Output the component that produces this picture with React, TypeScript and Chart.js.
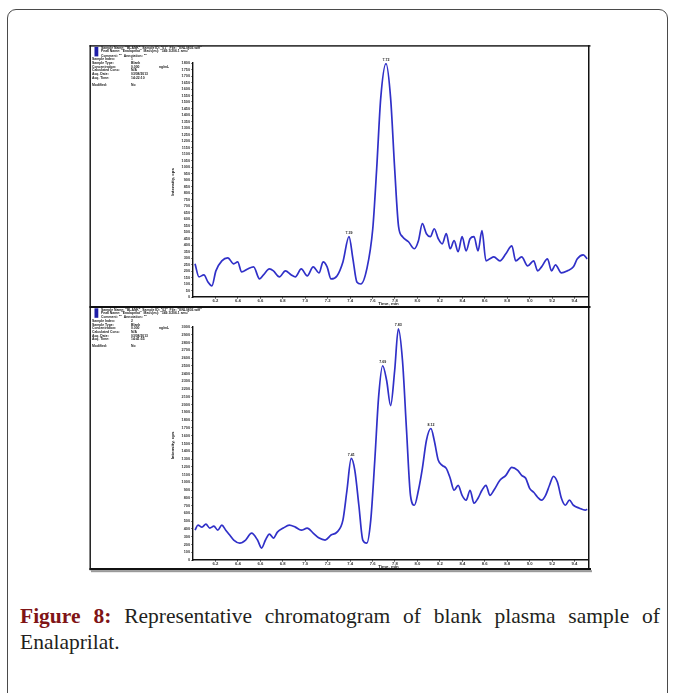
import React, { useEffect, useRef } from "react";
import { Chart, registerables } from "chart.js";

Chart.register(...registerables);

// Retention-time axis labels (min)
const timeTicks = [6.2, 6.4, 6.6, 6.8, 7.0, 7.2, 7.4, 7.6, 7.8, 8.0, 8.2, 8.4, 8.6, 8.8, 9.0, 9.2, 9.4];

// Upper trace
const topTime = [6.018, 6.053, 6.097, 6.133, 6.168, 6.204, 6.257, 6.31, 6.363, 6.398, 6.434, 6.487, 6.54, 6.593, 6.628, 6.681, 6.717, 6.77, 6.823, 6.876, 6.912, 6.965, 7.018, 7.071, 7.124, 7.159, 7.195, 7.23, 7.283, 7.336, 7.39, 7.425, 7.46, 7.496, 7.549, 7.602, 7.637, 7.673, 7.72, 7.761, 7.797, 7.832, 7.867, 7.92, 7.973, 8.009, 8.044, 8.08, 8.115, 8.15, 8.186, 8.221, 8.257, 8.292, 8.327, 8.363, 8.398, 8.434, 8.469, 8.504, 8.54, 8.575, 8.611, 8.646, 8.681, 8.735, 8.788, 8.841, 8.876, 8.929, 8.982, 9.036, 9.071, 9.106, 9.159, 9.195, 9.23, 9.283, 9.336, 9.39, 9.425, 9.478, 9.513];
const topIntensity = [255, 155, 170, 116, 85, 201, 278, 301, 255, 270, 193, 216, 232, 139, 170, 216, 201, 155, 201, 170, 155, 216, 162, 232, 185, 270, 232, 139, 162, 270, 464, 294, 116, 100, 216, 525, 989, 1530, 1795, 1530, 989, 541, 464, 425, 371, 433, 564, 487, 464, 525, 448, 409, 487, 371, 433, 348, 464, 355, 448, 464, 355, 510, 278, 294, 309, 278, 332, 394, 278, 309, 239, 278, 201, 232, 294, 201, 247, 185, 201, 232, 294, 324, 294];
const topPeaks = [7.39, 7.72];

// Lower trace
const bottomTime = [6.018, 6.044, 6.08, 6.115, 6.15, 6.186, 6.221, 6.257, 6.292, 6.327, 6.363, 6.416, 6.469, 6.522, 6.575, 6.611, 6.646, 6.681, 6.717, 6.752, 6.805, 6.858, 6.912, 6.965, 7.018, 7.071, 7.124, 7.177, 7.23, 7.283, 7.336, 7.372, 7.41, 7.442, 7.478, 7.513, 7.549, 7.584, 7.62, 7.655, 7.69, 7.726, 7.761, 7.797, 7.83, 7.867, 7.903, 7.938, 7.973, 8.009, 8.044, 8.08, 8.12, 8.15, 8.186, 8.221, 8.257, 8.292, 8.327, 8.363, 8.398, 8.434, 8.469, 8.504, 8.54, 8.575, 8.611, 8.646, 8.681, 8.735, 8.788, 8.841, 8.894, 8.929, 8.965, 9.0, 9.036, 9.071, 9.106, 9.142, 9.177, 9.212, 9.248, 9.283, 9.319, 9.354, 9.39, 9.443, 9.496, 9.513];
const bottomIntensity = [384, 449, 423, 461, 411, 436, 384, 449, 384, 321, 257, 218, 257, 346, 257, 154, 257, 334, 282, 359, 411, 449, 423, 384, 411, 346, 282, 257, 321, 359, 513, 898, 1308, 1154, 705, 257, 218, 513, 1283, 2116, 2501, 2308, 1988, 2437, 2976, 2565, 1667, 833, 705, 898, 1180, 1539, 1693, 1539, 1283, 1219, 1180, 1052, 898, 962, 833, 770, 898, 731, 795, 898, 962, 833, 898, 1026, 1090, 1193, 1154, 1090, 1052, 923, 872, 808, 770, 833, 962, 1077, 1000, 795, 705, 770, 705, 667, 641, 654];
const bottomPeaks = [7.41, 7.69, 7.83, 8.12];

// Acquisition header text
const topHeadLines = [
  'Sample Name: "BLANK"  Sample ID: "01"  File: "ENL0803.wiff"',
  'Peak Name: "Enalaprilat"  Mass(es): "349.1/206.1 amu"',
  'Comment: ""  Annotation: ""',
];
const bottomHeadLines = [
  'Sample Name: "BLANK"  Sample ID: "02"  File: "ENL0803.wiff"',
  'Peak Name: "Enalaprilat"  Mass(es): "349.1/206.1 amu"',
  'Comment: ""  Annotation: ""',
];
const topFields = [
  ["Sample Index:", "1", ""],
  ["Sample Type:", "Blank", ""],
  ["Concentration:", "0.000", "ng/mL"],
  ["Calculated Conc:", "N/A", ""],
  ["Acq. Date:", "03/08/2013", ""],
  ["Acq. Time:", "14:22:10", ""],
  ["Modified:", "No", ""],
];
const bottomFields = [
  ["Sample Index:", "2", ""],
  ["Sample Type:", "Blank", ""],
  ["Concentration:", "0.000", "ng/mL"],
  ["Calculated Conc:", "N/A", ""],
  ["Acq. Date:", "03/08/2013", ""],
  ["Acq. Time:", "14:41:55", ""],
  ["Modified:", "No", ""],
];

const SANS = '"Liberation Sans", Arial, sans-serif';
const LINE = "#3030c8";

type PanelProps = {
  time: number[];
  intensity: number[];
  peaks: number[];
  yMax: number;
  yStep: number;
  headLines: string[];
  fields: string[][];
  top: number;
  height: number;
  plotTop: number;
  axisHeight: number;
  frameTop: number;
  frameWeight: number;
  bottomFrame: boolean;
};

function Panel(p: PanelProps) {
  const ref = useRef<HTMLCanvasElement | null>(null);

  useEffect(() => {
    const canvas = ref.current;
    if (!canvas) return;
    const n = Math.min(p.time.length, p.intensity.length);
    const pts = [];
    for (let i = 0; i < n; i++) pts.push({ x: p.time[i], y: p.intensity[i] });

    const decor = {
      id: "panelDecor",
      afterDraw(chart: any) {
        const ctx = chart.ctx as CanvasRenderingContext2D;
        const W = chart.width;
        const H = chart.height;
        const ca = chart.chartArea;
        ctx.save();
        // frame
        ctx.fillStyle = "#111";
        const fb = p.bottomFrame ? H - 4 : H;
        ctx.fillRect(0.5, p.frameTop, 1.4, fb - p.frameTop);
        ctx.fillRect(0.5, p.frameTop, W - 2, p.frameWeight);
        ctx.fillRect(ca.right, p.frameTop, 1.5, fb - p.frameTop);
        if (p.bottomFrame) {
          ctx.fillRect(0.5, H - 6, W - 1.5, 2.2);
          ctx.fillStyle = "#9a9a9a";
          ctx.fillRect(2, H - 3.8, W - 2, 2);
        }
        // run marker
        ctx.fillStyle = "#1f1fa8";
        ctx.fillRect(5.5, p.frameTop + p.frameWeight + 0.3, 3.8, 9.5);

        // header block
        ctx.fillStyle = "#1a1a1a";
        ctx.font = `bold 3.4px ${SANS}`;
        ctx.textBaseline = "middle";
        ctx.textAlign = "left";
        const y0 = p.frameTop + p.frameWeight;
        const headY = [1.6, 4.6, 9.5];
        p.headLines.forEach((t, i) => ctx.fillText(t, 12, y0 + headY[i]));
        const fieldY = [12.8, 16.9, 20.4, 23.9, 27.6, 31.0, 38.4];
        p.fields.forEach((f, i) => {
          ctx.fillText(f[0], 3, y0 + fieldY[i]);
          ctx.fillText(f[1], 42, y0 + fieldY[i]);
          if (f[2]) ctx.fillText(f[2], 70, y0 + fieldY[i]);
        });

        // axis titles
        ctx.font = `bold 4.4px ${SANS}`;
        ctx.fillStyle = "#222";
        ctx.textAlign = "center";
        ctx.fillText("Time, min", (ca.left + ca.right) / 2 - 2, ca.bottom + 6.5);
        ctx.save();
        ctx.translate(ca.left - 20, (ca.top + ca.bottom) / 2 + 2);
        ctx.rotate(-Math.PI / 2);
        ctx.fillText("Intensity, cps", 0, 0);
        ctx.restore();

        // retention-time labels above peaks
        const meta = chart.getDatasetMeta(0);
        ctx.font = `bold 3.6px ${SANS}`;
        ctx.textBaseline = "bottom";
        p.peaks.forEach((t) => {
          const idx = p.time.indexOf(t);
          if (idx < 0) return;
          const el = meta.data[idx];
          ctx.fillText(t.toFixed(2), el.x, el.y - 2);
        });
        ctx.restore();
      },
    };

    const chart = new Chart(canvas, {
      type: "line",
      data: {
        datasets: [
          {
            data: pts,
            borderColor: LINE,
            borderWidth: 1.7,
            pointRadius: 0,
            cubicInterpolationMode: "monotone",
            fill: false,
          },
        ],
      },
      options: {
        animation: false,
        responsive: false,
        devicePixelRatio: 1,
        events: [],
        layout: { padding: { top: p.plotTop, right: 4, left: 0, bottom: 0 } },
        plugins: { legend: { display: false }, tooltip: { enabled: false } },
        scales: {
          x: {
            type: "linear",
            min: 6.0,
            max: 9.52,
            afterBuildTicks: (s: any) => {
              s.ticks = timeTicks.map((v) => ({ value: v }));
            },
            afterFit: (s: any) => {
              s.height = p.axisHeight;
            },
            ticks: {
              autoSkip: false,
              maxRotation: 0,
              padding: 0,
              color: "#333",
              font: { size: 4.2, weight: "bold", family: SANS },
              callback: (v: any) => Number(v).toFixed(1),
            },
            grid: { drawOnChartArea: false, tickLength: 1.5, color: "#111" },
            border: { color: "#111", width: 1.4 },
          },
          y: {
            type: "linear",
            min: 0,
            max: p.yMax,
            afterFit: (s: any) => {
              s.width = 104;
            },
            ticks: {
              stepSize: p.yStep,
              autoSkip: false,
              padding: 1.5,
              color: "#333",
              font: { size: 3.8, weight: "bold", family: SANS },
              callback: (v: any) => String(v),
            },
            grid: { drawOnChartArea: false, tickLength: 1.5, color: "#111" },
            border: { color: "#111", width: 1.4 },
          },
        },
      },
      plugins: [decor],
    } as any);

    return () => chart.destroy();
  }, []);

  return (
    <canvas
      ref={ref}
      width={503}
      height={p.height}
      style={{
        position: "absolute",
        left: 89,
        top: p.top,
        width: 503,
        height: p.height,
        filter: "blur(0.3px)",
      }}
    />
  );
}

export default function App() {
  return (
    <div
      style={{
        position: "absolute",
        left: 0,
        top: 0,
        width: 678,
        height: 693,
        overflow: "hidden",
        background: "#fff",
      }}
    >
      <div
        style={{
          position: "absolute",
          left: 7,
          top: 9,
          width: 661,
          height: 720,
          border: "1px solid #4a4a4a",
          borderRadius: 9,
          boxSizing: "border-box",
        }}
      />
      <Panel
        time={topTime}
        intensity={topIntensity}
        peaks={topPeaks}
        yMax={1800}
        yStep={50}
        headLines={topHeadLines}
        fields={topFields}
        top={42}
        height={264}
        plotTop={21}
        axisHeight={9}
        frameTop={3.2}
        frameWeight={1.4}
        bottomFrame={false}
      />
      <Panel
        time={bottomTime}
        intensity={bottomIntensity}
        peaks={bottomPeaks}
        yMax={3000}
        yStep={100}
        headLines={bottomHeadLines}
        fields={bottomFields}
        top={306}
        height={268}
        plotTop={21}
        axisHeight={14}
        frameTop={0}
        frameWeight={2}
        bottomFrame={true}
      />
      <div
        style={{
          position: "absolute",
          left: 20,
          top: 604,
          width: 640,
          fontFamily: '"Liberation Serif", "Times New Roman", serif',
          fontSize: 21.5,
          lineHeight: "25.6px",
          color: "#231f20",
        }}
      >
        <div style={{ textAlign: "justify", textAlignLast: "justify", whiteSpace: "nowrap" }}>
          <b style={{ color: "#7f1416" }}>Figure 8:</b> Representative chromatogram of blank plasma sample of
        </div>
        <div>Enalaprilat.</div>
      </div>
    </div>
  );
}
